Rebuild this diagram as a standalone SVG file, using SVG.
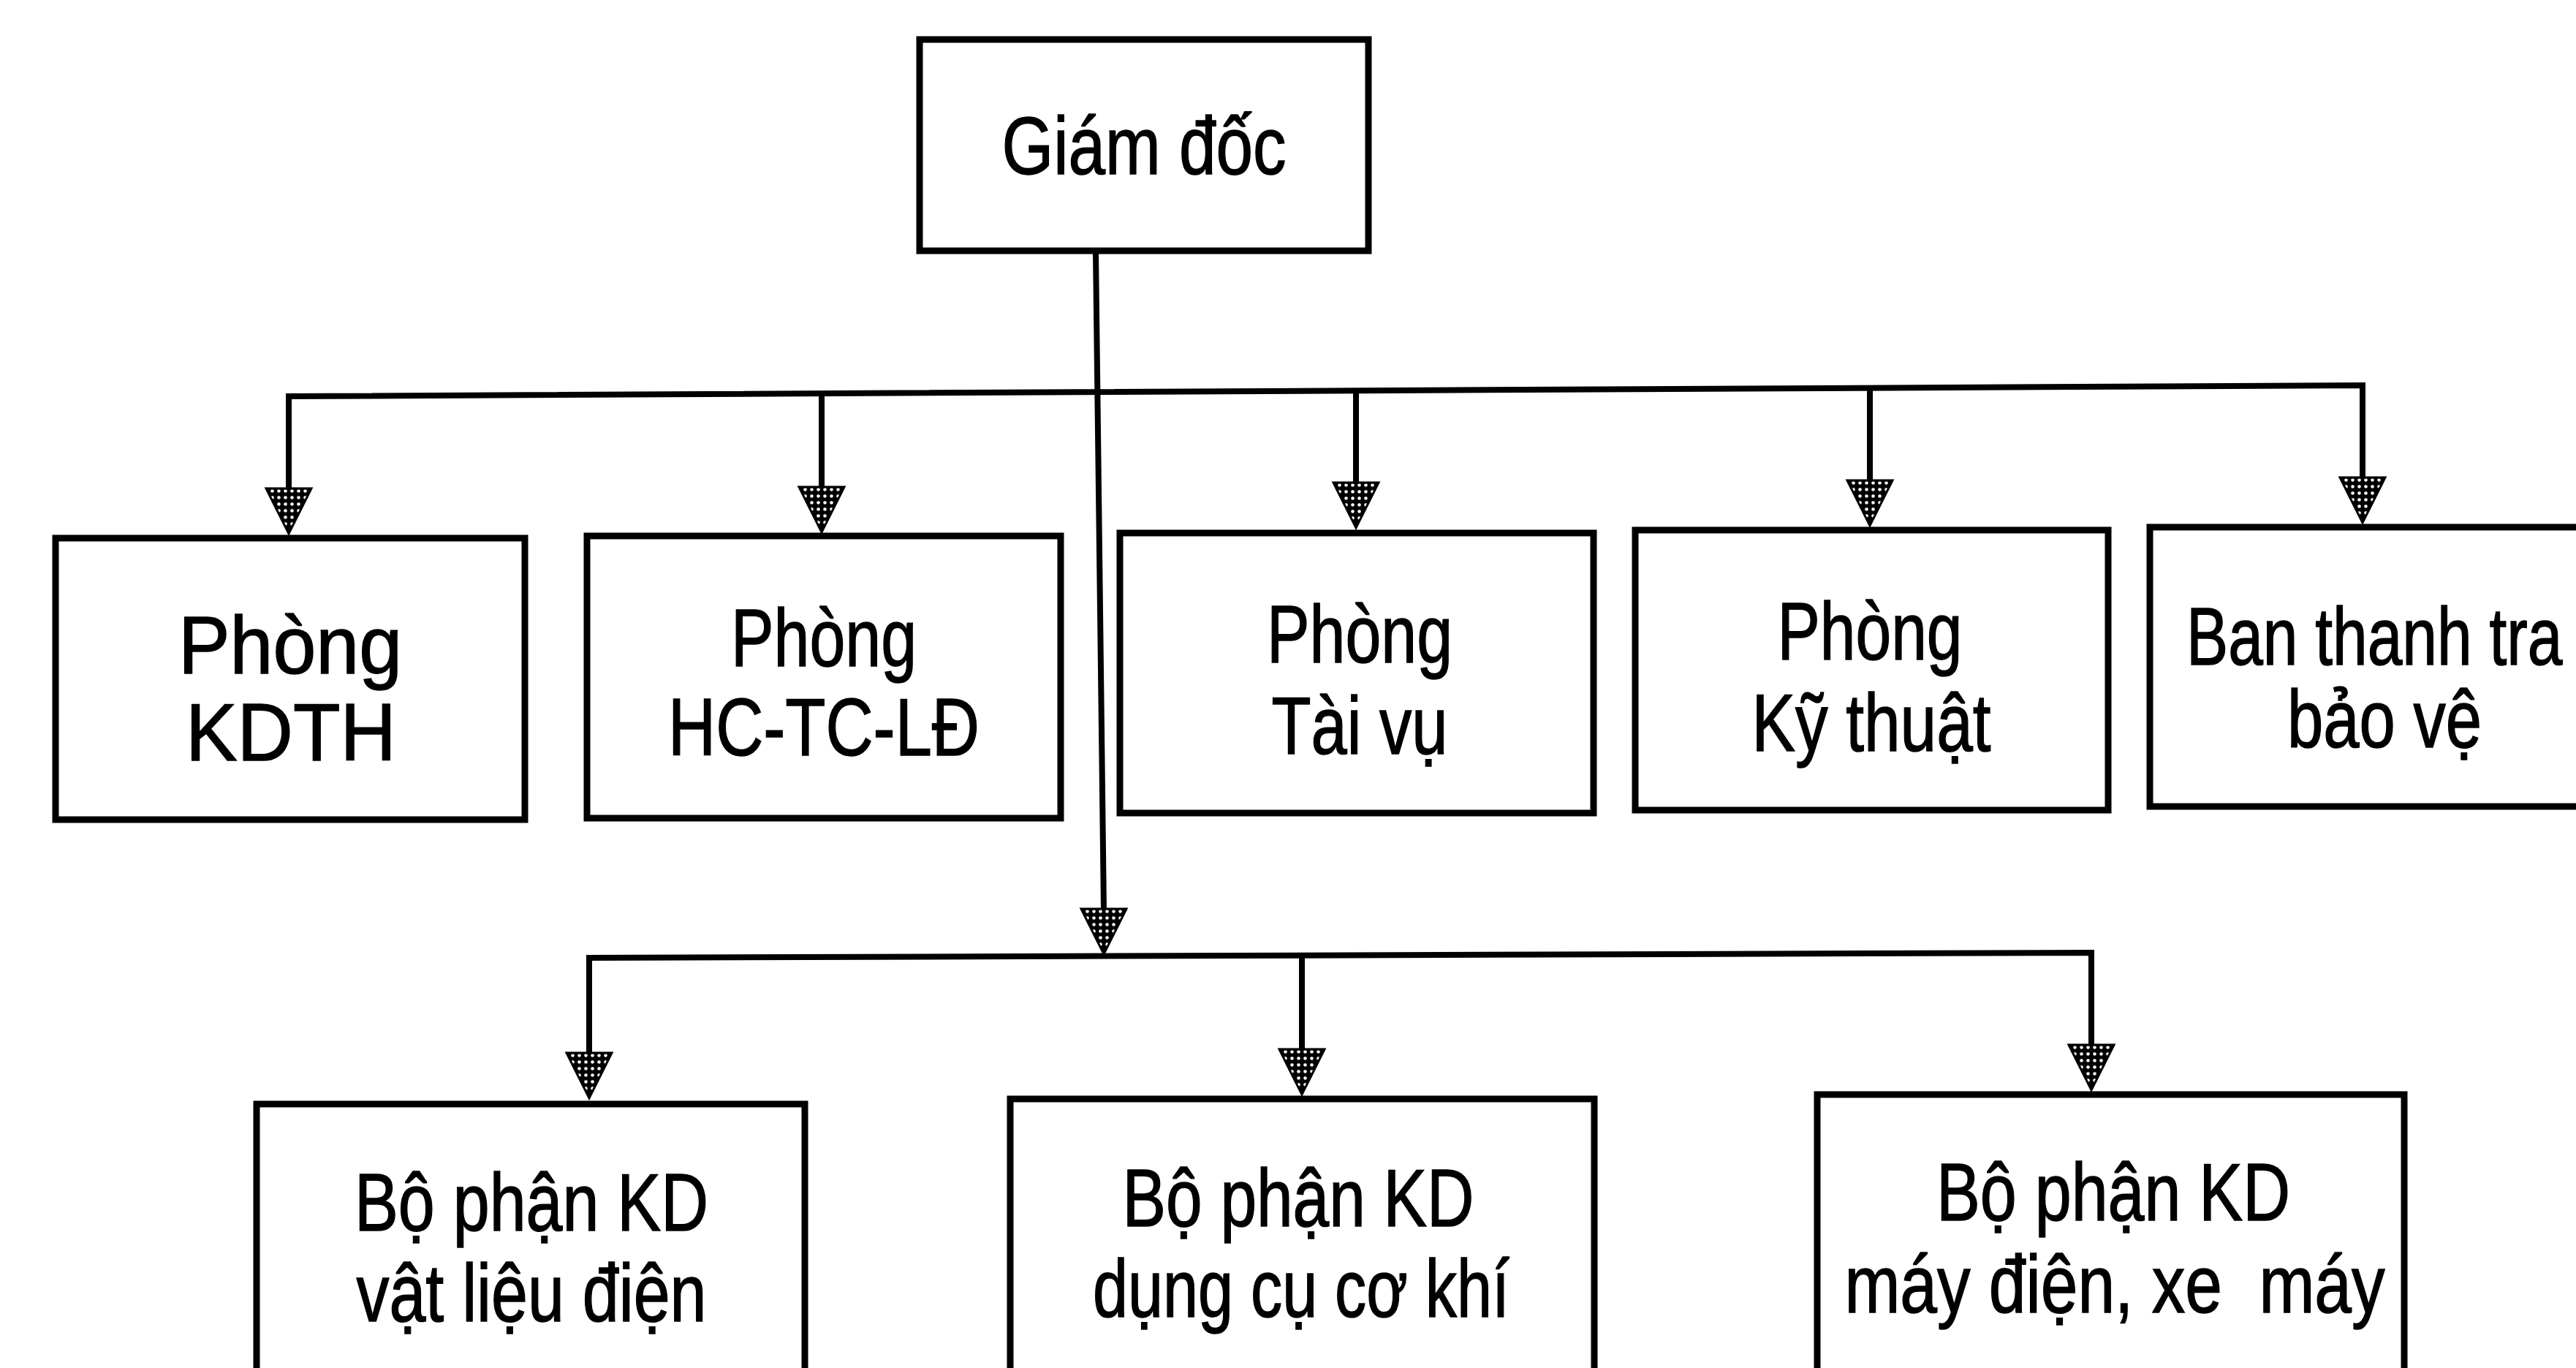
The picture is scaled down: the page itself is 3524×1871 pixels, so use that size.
<svg xmlns="http://www.w3.org/2000/svg" xmlns:xlink="http://www.w3.org/1999/xlink" width="3524" height="1871" viewBox="0 0 3524 1871">
<defs>
<style>
.box{fill:#fff;stroke:#000;stroke-width:9}
.ln{fill:none;stroke:#000;stroke-width:8}
.t{font-family:"Liberation Sans",Arial,sans-serif;font-size:112px;fill:#000;stroke:#000;stroke-width:1.5;text-anchor:middle}
.ts{font-family:"Liberation Sans",Arial,sans-serif;font-size:112px;fill:#000;stroke:#000;stroke-width:1.5;text-anchor:start}
.arrow{fill:url(#dots);stroke:#000;stroke-width:3}
</style>
<pattern id="dots" width="9" height="9" patternUnits="userSpaceOnUse">
<rect width="9" height="9" fill="#000"/>
<circle cx="4.5" cy="4.5" r="2.3" fill="#fff"/>
</pattern>
<path id="ah" d="M-31,-62 L31,-62 L0,0 Z"/>
</defs>
<rect width="3524" height="1871" fill="#fff"/>
<g id="connectors">
<path class="ln" d="M1499,344 L1510,1245"/>
<path class="ln" d="M395,668 L395,542 L3232,527 L3232,654"/>
<path class="ln" d="M1124,538 L1124,665"/>
<path class="ln" d="M1855,534 L1855,661"/>
<path class="ln" d="M2558,531 L2558,657"/>
<path class="ln" d="M806,1441 L806,1310 L2861,1303 L2861,1429"/>
<path class="ln" d="M1781,1307 L1781,1436"/>
<use href="#ah" class="arrow" x="395" y="730"/>
<use href="#ah" class="arrow" x="1124" y="728"/>
<use href="#ah" class="arrow" x="1855" y="722"/>
<use href="#ah" class="arrow" x="2558" y="719"/>
<use href="#ah" class="arrow" x="3232" y="715"/>
<use href="#ah" class="arrow" x="1510" y="1305"/>
<use href="#ah" class="arrow" x="806" y="1502"/>
<use href="#ah" class="arrow" x="1781" y="1497"/>
<use href="#ah" class="arrow" x="2861" y="1491"/>
</g>
<g id="giam-doc">
<rect class="box" x="1258" y="54" width="614" height="289"/>
<text class="t" x="1565" y="238" textLength="389" lengthAdjust="spacingAndGlyphs">Giám đốc</text>
</g>
<g id="phong-kdth">
<rect class="box" x="76" y="736" width="642" height="385"/>
<text class="t" x="397" y="921" textLength="306" lengthAdjust="spacingAndGlyphs">Phòng</text>
<text class="t" x="398" y="1040" textLength="288" lengthAdjust="spacingAndGlyphs">KDTH</text>
</g>
<g id="phong-hc">
<rect class="box" x="803" y="733" width="648" height="386"/>
<text class="t" x="1127" y="911" textLength="254" lengthAdjust="spacingAndGlyphs">Phòng</text>
<text class="t" x="1127" y="1033" textLength="426" lengthAdjust="spacingAndGlyphs">HC-TC-LĐ</text>
</g>
<g id="phong-tai-vu">
<rect class="box" x="1532" y="729" width="648" height="383"/>
<text class="t" x="1860" y="906" textLength="254" lengthAdjust="spacingAndGlyphs">Phòng</text>
<text class="t" x="1860" y="1031" textLength="241" lengthAdjust="spacingAndGlyphs">Tài vụ</text>
</g>
<g id="phong-ky-thuat">
<rect class="box" x="2237" y="725" width="647" height="383"/>
<text class="t" x="2558" y="902" textLength="253" lengthAdjust="spacingAndGlyphs">Phòng</text>
<text class="t" x="2560" y="1027" textLength="327" lengthAdjust="spacingAndGlyphs">Kỹ thuật</text>
</g>
<g id="ban-thanh-tra">
<rect class="box" x="2941" y="721" width="700" height="382"/>
<text class="ts" transform="translate(2991,909) scale(0.765,1)" x="0" y="0">Ban thanh tra</text>
<text class="t" x="3262" y="1022" textLength="266" lengthAdjust="spacingAndGlyphs">bảo vệ</text>
</g>
<g id="bp-vat-lieu-dien">
<rect class="box" x="351" y="1510" width="750" height="500"/>
<text class="t" x="727" y="1683" textLength="484" lengthAdjust="spacingAndGlyphs">Bộ phận KD</text>
<text class="t" x="727" y="1807" textLength="479" lengthAdjust="spacingAndGlyphs">vật liệu điện</text>
</g>
<g id="bp-dung-cu-co-khi">
<rect class="box" x="1382" y="1503" width="799" height="500"/>
<text class="t" x="1776" y="1677" textLength="481" lengthAdjust="spacingAndGlyphs">Bộ phận KD</text>
<text class="t" x="1780" y="1801" textLength="570" lengthAdjust="spacingAndGlyphs">dụng cụ cơ khí</text>
</g>
<g id="bp-may-dien">
<rect class="box" x="2486" y="1497" width="803" height="500"/>
<text class="t" x="2891" y="1669" textLength="484" lengthAdjust="spacingAndGlyphs">Bộ phận KD</text>
<text class="t" x="2893" y="1795" textLength="739" lengthAdjust="spacingAndGlyphs" xml:space="preserve">máy điện, xe  máy</text>
</g>
</svg>
